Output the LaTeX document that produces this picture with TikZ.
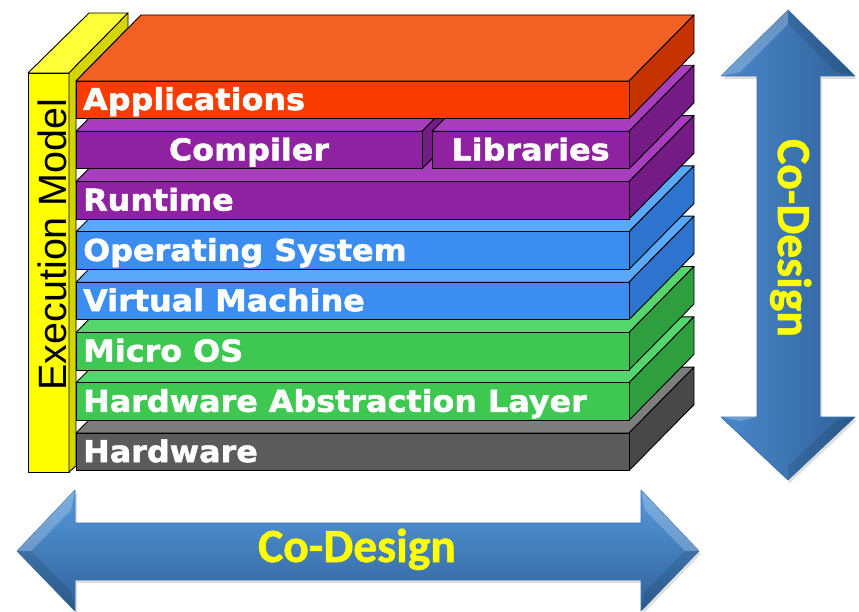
\documentclass[tikz,border=0pt]{standalone}
\usepackage{fontspec}
\usetikzlibrary{shadows}
\newfontfamily\labfont[FakeStretch=1.06,FakeBold=1.6]{DejaVu Sans}
\newfontfamily\emfont{Liberation Sans}
\newfontfamily\cdfont[FakeBold=1.2]{Carlito}
\definecolor{orF}{HTML}{F83C00}\definecolor{orT}{HTML}{F26123}\definecolor{orS}{HTML}{C43300}
\definecolor{puF}{HTML}{8E22A0}\definecolor{puT}{HTML}{A83DBE}\definecolor{puS}{HTML}{751B86}
\definecolor{blF}{HTML}{3C8DF0}\definecolor{blT}{HTML}{5AA8F8}\definecolor{blS}{HTML}{2E74CE}
\definecolor{grF}{HTML}{3EC751}\definecolor{grT}{HTML}{55D56C}\definecolor{grS}{HTML}{2E9E3F}
\definecolor{hwF}{HTML}{5B5B5B}\definecolor{hwT}{HTML}{7D7D7D}\definecolor{hwS}{HTML}{484848}
\definecolor{yeF}{HTML}{FFFF00}\definecolor{yeT}{HTML}{FFFF3A}\definecolor{yeS}{HTML}{D4D400}
\definecolor{cdL}{HTML}{4A88CB}\definecolor{cdM}{HTML}{5799DC}\definecolor{cdR}{HTML}{2F6299}
\definecolor{cdD}{HTML}{3A6FAA}\definecolor{cdY}{HTML}{FFFF00}
\newcommand\slabbox[6]{%
  \filldraw[edge,fill=#5] (#1,#3) -- ({#1+65},{#3-66}) -- ({#2+65},{#3-66}) -- (#2,#3) -- cycle;
  \filldraw[edge,fill=#6] (#2,#3) -- ({#2+65},{#3-66}) -- ({#2+65},{#3-28.5}) -- (#2,{#3+37.5}) -- cycle;
  \filldraw[edge,fill=#4] (#1,#3) rectangle (#2,{#3+37.5});
}
\begin{document}
\begin{tikzpicture}[x=1bp,y=-1bp,
  edge/.style={draw=black,line width=0.9bp,line join=round},
  lab/.style={text=white,font=\labfont\bfseries\fontsize{30bp}{36bp}\selectfont,inner sep=0pt},
  cdtext/.style={text=cdY,font=\cdfont\bfseries\fontsize{47.5bp}{52bp}\selectfont,inner sep=0pt},
  cdarrow/.style={draw=cdD,line width=0.6bp,line join=round,
     drop shadow={opacity=0.25,shadow xshift=2bp,shadow yshift=-3bp}},
  facet/.style={fill=white,opacity=0.22}]
\useasboundingbox (0,0) rectangle (859,612);
% execution model box
\filldraw[edge,fill=yeF] (28,73) rectangle (69,472);
\filldraw[edge,fill=yeT] (28,73) -- (89,13) -- (128,13) -- (69,73) -- cycle;
\filldraw[edge,fill=yeS] (69,73) -- (128,13) -- (128,28) -- (76,81) -- (76,466) -- (69,472) -- cycle;
% slabs, bottom to top
\slabbox{76}{629}{433.1}{hwF}{hwT}{hwS}
\slabbox{76}{629}{382.8}{grF}{grT}{grS}
\slabbox{76}{629}{332.5}{grF}{grT}{grS}
\slabbox{76}{629}{282.2}{blF}{blT}{blS}
\slabbox{76}{629}{231.9}{blF}{blT}{blS}
\slabbox{76}{629}{181.6}{puF}{puT}{puS}
\slabbox{76}{422}{131.3}{puF}{puT}{puS}
\slabbox{432}{629}{131.3}{puF}{puT}{puS}
\slabbox{76}{629}{81}{orF}{orT}{orS}
% labels
\node[lab,anchor=base west] (apps) at (83,110) {Applications};
\node[lab,anchor=base] (comp) at (249,160.3) {Compiler};
\node[lab,anchor=base] (libs) at (530.5,160.3) {Libraries};
\node[lab,anchor=base west] (rt) at (83,210.6) {Runtime};
\node[lab,anchor=base west] (os) at (83,260.9) {Operating System};
\node[lab,anchor=base west] (vm) at (83,311.2) {Virtual Machine};
\node[lab,anchor=base west] (mos) at (83,361.5) {Micro OS};
\node[lab,anchor=base west] (hal) at (83,411.8) {Hardware Abstraction Layer};
\node[lab,anchor=base west] (hw) at (83,462.1) {Hardware};
\node[inner sep=0pt,rotate=90,anchor=base,font=\emfont\fontsize{39.5bp}{44bp}\selectfont] (em) at (66,244.5) {Execution Model};
% vertical co-design arrow
\path[cdarrow,left color=cdL,middle color=cdM,right color=cdR]
  (788,10) -- (855,76) -- (820,76) -- (820,417) -- (855,417) -- (788,480)
  -- (721,417) -- (757,417) -- (757,76) -- (721,76) -- cycle;
\fill[facet] (788,10) -- (721,76) -- (740,72) -- (788,24) -- cycle;
\fill[facet] (721,417) -- (740,421) -- (757,417) -- cycle;
\fill[black,opacity=0.10] (788,10) -- (855,76) -- (836,72) -- (788,24) -- cycle;
\fill[black,opacity=0.10] (788,480) -- (855,417) -- (836,421) -- (788,466) -- cycle;
\node[cdtext,rotate=-90,anchor=base] (cdv) at (778,238) {Co-Design};
% horizontal co-design arrow
\path[cdarrow,top color=cdM,middle color=cdL,bottom color=cdR]
  (17,551) -- (75,490) -- (75,523) -- (641,523) -- (641,490) -- (699,551)
  -- (641,611) -- (641,580) -- (75,580) -- (75,611) -- cycle;
\fill[facet] (17,551) -- (75,490) -- (71,510) -- (31,551) -- cycle;
\fill[facet] (641,490) -- (699,551) -- (685,551) -- (645,510) -- cycle;
\fill[black,opacity=0.10] (17,551) -- (75,611) -- (71,592) -- (31,551) -- cycle;
\fill[black,opacity=0.10] (699,551) -- (641,611) -- (645,592) -- (685,551) -- cycle;
\node[cdtext,anchor=base] (cdh) at (357,562) {Co-Design};
\end{tikzpicture}
\end{document}
